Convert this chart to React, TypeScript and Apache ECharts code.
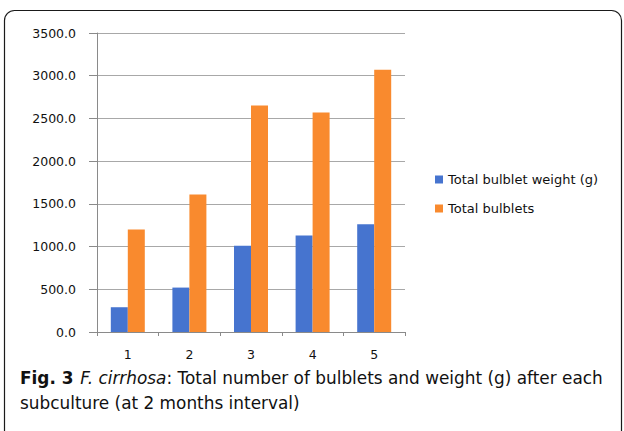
import React, { useEffect, useRef } from "react";
import * as echarts from "echarts";

const categories = ["1", "2", "3", "4", "5"];
const weightValues = [290, 520, 1010, 1130, 1260];
const bulbletValues = [1200, 1610, 2650, 2570, 3070];
const seriesNames = ["Total bulblet weight (g)", "Total bulblets"];
const yTicks = { min: 0, max: 3500, interval: 500 };
const captionBold = "Fig. 3";
const captionItalic = "F. cirrhosa";
const captionLine1 = ": Total number of bulblets and weight (g) after each";
const captionLine2 = "subculture (at 2 months interval)";

export default function App() {
  const ref = useRef<HTMLDivElement>(null);
  useEffect(() => {
    if (!ref.current) return;
    const chart = echarts.init(ref.current, undefined, { renderer: "svg" });
    const capFont = "DejaVu Sans";
    const capSize = 16.9;
    chart.setOption({
      animation: false,
      backgroundColor: "#ffffff",
      grid: { left: 97, right: 219, top: 33, bottom: 99, containLabel: false },
      legend: {
        orient: "vertical",
        left: 430,
        top: 168,
        itemWidth: 8,
        itemHeight: 8,
        itemGap: 16,
        icon: "rect",
        textStyle: { fontFamily: "DejaVu Sans", fontSize: 13, color: "#111", padding: [0, 0, 0, 0] },
        data: seriesNames,
      },
      xAxis: {
        type: "category",
        data: categories,
        axisLine: { lineStyle: { color: "#8a8a8a", width: 1 } },
        axisTick: { show: true, length: 4, lineStyle: { color: "#8a8a8a" } },
        axisLabel: { fontFamily: "DejaVu Sans", fontSize: 12.5, color: "#111", margin: 16 },
      },
      yAxis: {
        type: "value",
        min: yTicks.min,
        max: yTicks.max,
        interval: yTicks.interval,
        axisLine: { show: true, lineStyle: { color: "#8a8a8a", width: 1 } },
        axisTick: { show: true, length: 8, lineStyle: { color: "#8a8a8a" } },
        axisLabel: {
          fontFamily: "DejaVu Sans",
          fontSize: 12.5,
          color: "#111",
          margin: 21,
          formatter: (v: number) => v.toFixed(1),
        },
        splitLine: { show: true, lineStyle: { color: "#a8a8a8", width: 1 } },
      },
      series: [
        {
          name: seriesNames[0],
          type: "bar",
          data: weightValues,
          barWidth: 17,
          barGap: "0%",
          itemStyle: { color: "#4674CF" },
        },
        {
          name: seriesNames[1],
          type: "bar",
          data: bulbletValues,
          barWidth: 17,
          barGap: "0%",
          itemStyle: { color: "#F98A2E" },
        },
      ],
      graphic: [
        {
          type: "rect",
          shape: { x: 4.5, y: 10.5, width: 617, height: 460, r: 10 },
          style: { fill: "none", stroke: "#1a1a1a", lineWidth: 1.2 },
          z: 100,
        },
        {
          type: "text",
          left: 20,
          top: 369,
          style: {
            text:
              "{b|" + captionBold + "}  {i|" + captionItalic + "}{r|" + captionLine1 + "}\n{r|" + captionLine2 + "}",
            rich: {
              b: { fontFamily: capFont, fontWeight: "bold", fontSize: capSize, lineHeight: 25, fill: "#111" },
              i: { fontFamily: capFont, fontStyle: "italic", fontSize: capSize, lineHeight: 25, fill: "#111" },
              r: { fontFamily: capFont, fontSize: capSize, lineHeight: 25, fill: "#111" },
            },
          },
        },
      ],
    });
    return () => chart.dispose();
  }, []);
  return (
    <div
      ref={ref}
      style={{ position: "fixed", left: 0, top: 0, width: 624, height: 431 }}
    />
  );
}
